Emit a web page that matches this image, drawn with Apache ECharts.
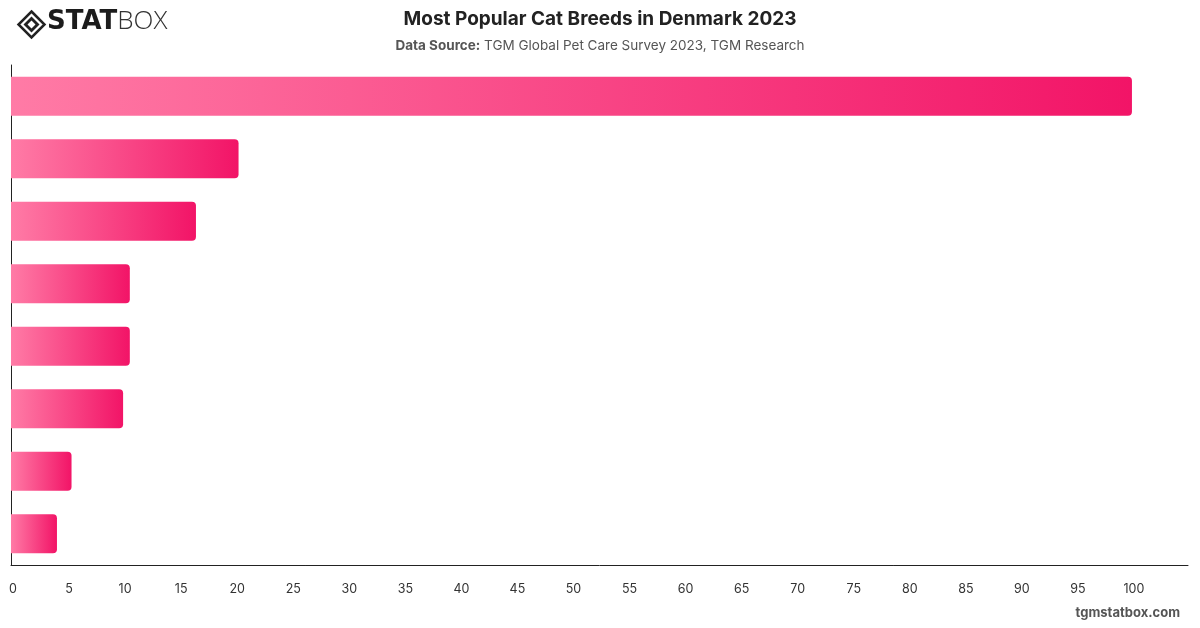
<!DOCTYPE html>
<html>
<head>
    <meta charset="UTF-8">
    <title>Most Popular Cat Breeds in Denmark 2023</title>
    <script src="https://cdn.jsdelivr.net/npm/echarts@6/dist/echarts.min.js"></script>
    <style>
        html, body { margin: 0; padding: 0; background: #fff; }
        #chartBox { width: 1200px; height: 628px; }
    </style>
</head>
<body>
    <div id="chartBox"></div>

    <script>
        // category labels are hidden in the original chart
        var breeds = ['Breed 1', 'Breed 2', 'Breed 3', 'Breed 4', 'Breed 5', 'Breed 6', 'Breed 7', 'Breed 8'];
        var shares = [100, 20.3, 16.5, 10.6, 10.6, 10.0, 5.4, 4.1];
        var xTicks = { min: 0, max: 105, step: 5 };

        var myChart = echarts.init(document.getElementById('chartBox'));

        var font = 'Inter, "Noto Sans", sans-serif';

        var option = {
            backgroundColor: '#fff',
            animation: false,
            textStyle: { fontFamily: font },
            title: {
                text: 'Most Popular Cat Breeds in Denmark 2023',
                left: 'center',
                top: 5,
                textStyle: { fontSize: 19, fontWeight: 'bold', color: '#222', fontFamily: font },
                subtext: '{b|Data Source:} TGM Global Pet Care Survey 2023, TGM Research',
                itemGap: 10,
                subtextStyle: {
                    fontSize: 13.5,
                    color: '#555',
                    fontFamily: font,
                    rich: {
                        b: { fontSize: 13.5, fontWeight: 'bold', color: '#555', fontFamily: font }
                    }
                }
            },
            grid: {
                left: 11,
                right: 12,
                top: 65,
                bottom: 63,
                containLabel: false
            },
            xAxis: {
                type: 'value',
                min: xTicks.min,
                max: xTicks.max,
                interval: xTicks.step,
                axisLine: { show: true, lineStyle: { color: '#222', width: 1 } },
                axisTick: { show: false },
                splitLine: { show: false },
                axisLabel: {
                    color: '#333',
                    fontSize: 12.5,
                    margin: 18,
                    padding: [0, 0, 0, 4],
                    showMaxLabel: false,
                    fontFamily: font
                }
            },
            yAxis: {
                type: 'category',
                data: breeds,
                inverse: true,
                axisLine: { show: true, lineStyle: { color: '#222', width: 1 } },
                axisTick: { show: false },
                axisLabel: { show: false }
            },
            series: [{
                type: 'bar',
                data: shares,
                barWidth: 39,
                itemStyle: {
                    borderRadius: [0, 4, 4, 0],
                    color: new echarts.graphic.LinearGradient(0, 0, 1, 0, [
                        { offset: 0, color: '#ff7ba6' },
                        { offset: 1, color: '#f21467' }
                    ])
                }
            }],
            graphic: [
                {
                    type: 'group',
                    left: 16,
                    top: 9,
                    children: [
                        { type: 'polygon', shape: { points: [[13, 0], [26, 13], [13, 26], [0, 13]] }, style: { fill: 'none', stroke: '#222', lineWidth: 2.5 } },
                        { type: 'polygon', shape: { points: [[13, 5], [21, 13], [13, 21], [5, 13]] }, style: { fill: '#222' } },
                        { type: 'polygon', shape: { points: [[13, 9], [17, 13], [13, 17], [9, 13]] }, style: { fill: '#fff' } }
                    ]
                },
                {
                    type: 'text',
                    left: 47,
                    top: 9,
                    style: {
                        text: '{a|STAT}{b|BOX}',
                        rich: {
                            a: { fontSize: 26, fontWeight: 900, fill: '#1c1c1c', fontFamily: '"DejaVu Sans", sans-serif' },
                            b: { fontSize: 26, fontWeight: 300, fill: '#333', fontFamily: '"Open Sans", sans-serif' }
                        }
                    }
                },
                {
                    type: 'text',
                    right: 20,
                    top: 607,
                    style: {
                        text: 'tgmstatbox.com',
                        fontSize: 13,
                        fontWeight: 'bold',
                        fill: '#555',
                        fontFamily: font
                    }
                }
            ]
        };

        myChart.setOption(option);
    </script>
</body>
</html>
